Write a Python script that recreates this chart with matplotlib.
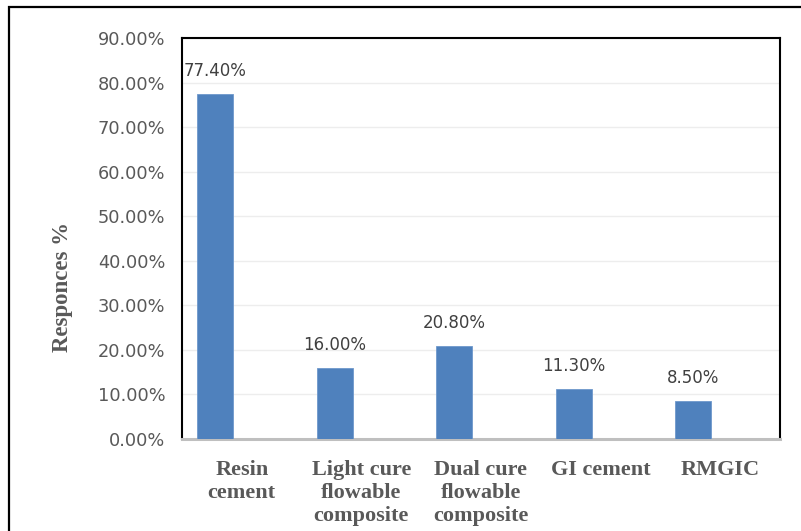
import matplotlib
matplotlib.use("Agg")
import matplotlib.pyplot as plt
from matplotlib.patches import Rectangle
from matplotlib.ticker import FuncFormatter, MultipleLocator

categories = ["Resin\ncement", "Light cure\nflowable\ncomposite",
              "Dual cure\nflowable\ncomposite", "GI cement", "RMGIC"]
responses = [77.40, 16.00, 20.80, 11.30, 8.50]
value_labels = ["77.40%", "16.00%", "20.80%", "11.30%", "8.50%"]

W, H = 801, 531
fig = plt.figure(figsize=(W / 100, H / 100), dpi=100)

# outer frame (top and left edges visible)
fig.patches.append(Rectangle((9 / W, -0.1), 1.2, 1.1 - 7 / H, transform=fig.transFigure,
                             fill=False, edgecolor="black", linewidth=1.6, zorder=0))

ax = fig.add_axes([182 / W, (H - 439) / H, (780 - 182) / W, (439 - 38) / H])

x = list(range(len(categories)))
bar_x = [i - 0.224 for i in x]
bars = ax.bar(bar_x, responses, width=0.3, color="#4F81BD", edgecolor="#6E98CC",
              linewidth=0.6, zorder=3)

for bx, val, lab in zip(bar_x, responses, value_labels):
    ax.annotate(lab, (bx, val), xytext=(0, 16.5), textcoords="offset points",
                ha="center", va="center", fontsize=12, color="#404040",
                family="DejaVu Sans")

ax.set_xlim(-0.5, len(categories) - 0.5)
ax.set_ylim(0, 90)
ax.yaxis.set_major_locator(MultipleLocator(10))
ax.yaxis.set_major_formatter(FuncFormatter(lambda v, p: f"{v:.2f}%"))
ax.grid(axis="y", color="#EDEDED", linewidth=1.0, zorder=0)
ax.set_axisbelow(True)

ax.set_xticks(x)
ax.set_xticklabels(categories, fontsize=16, fontweight="bold", color="#595959",
                   family="Liberation Serif", linespacing=1.22)
ax.tick_params(axis="x", length=0, pad=15)
ax.tick_params(axis="y", length=0, pad=12, labelsize=12.8, labelcolor="#595959")
for t in ax.get_yticklabels():
    t.set_family("DejaVu Sans")

ax.set_ylabel("Responces %", fontsize=16.5, fontweight="bold", color="#595959",
              family="Liberation Serif")
ax.yaxis.set_label_coords(-0.182, 0.379)

for side in ("left", "top", "right"):
    ax.spines[side].set_color("black")
    ax.spines[side].set_linewidth(1.5)
ax.spines["bottom"].set_color("#BFBFBF")
ax.spines["bottom"].set_linewidth(2.2)

fig.savefig("out.png", dpi=100)
